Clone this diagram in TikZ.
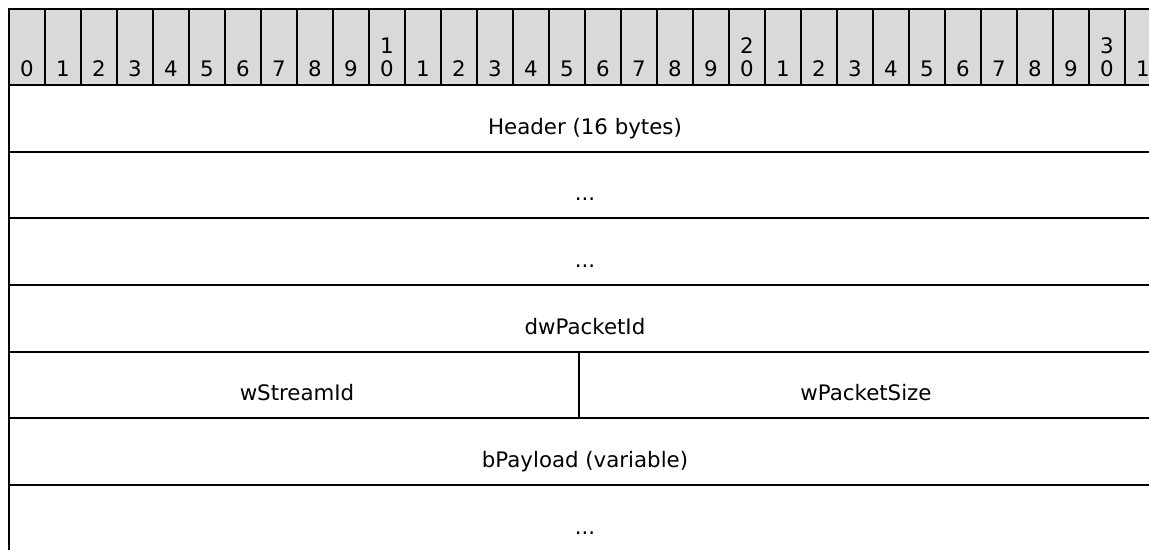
\documentclass[tikz,border=0pt]{standalone}
\usepackage{fontspec}
\setmainfont{DejaVu Sans}
\usepackage{tikz}
\usetikzlibrary{positioning}
\definecolor{headgray}{RGB}{217,217,217}

\begin{document}
\begin{tikzpicture}[x=1pt,y=-1pt,line width=1.5pt,
  every node/.style={font=\fontsize{16}{17}\selectfont, inner sep=0pt},
  bitcell/.style={draw=black, fill=headgray},
  field/.style={anchor=base}]
 \useasboundingbox (0,0) rectangle (861.75,412.5);
 \clip (0,0) rectangle (861.75,412.5);

 % bit numbers 0..31
 \foreach \i in {0,...,31} {
   \draw [bitcell] (6.75+27*\i,6.75) rectangle (33.75+27*\i,63.75);
   \pgfmathtruncatemacro{\ones}{mod(\i,10)}
   \pgfmathtruncatemacro{\tens}{\i/10}
   \node (bit\i) [field] at (20.25+27*\i,57.4) {\ones};
   \ifnum\ones=0 \ifnum\i>0
     \node (tens\i) [field] at (20.25+27*\i,40) {\tens};
   \fi\fi
 }

 % fields
 \node (header) [field] at (438.75,100.5) { Header (16 bytes) };
 \node (hdrmore) [below=50pt of header.base,anchor=base] { ... };
 \node (hdrlast) [below=50pt of hdrmore.base,anchor=base] { ... };
 \node (packetid) [below=50pt of hdrlast.base,anchor=base] { dwPacketId };
 \node (streamid) [field] at (222.75,300.5) { wStreamId };
 \node (packetsize) [field] at (649.5,300.5) { wPacketSize };
 \node (payload) [below=100pt of packetid.base,anchor=base] { bPayload (variable) };
 \node (paymore) [below=50pt of payload.base,anchor=base] { ... };

 % row lines
 \draw (6.75,6.75) -- (6.75,412.5);
 \draw (6.75,113.75) -- (861.75,113.75);
 \draw (6.75,163.75) -- (861.75,163.75);
 \draw (6.75,213.75) -- (861.75,213.75);
 \draw (6.75,263.75) -- (861.75,263.75);
 \draw (6.75,313.75) -- (861.75,313.75);
 \draw (6.75,363.75) -- (861.75,363.75);
 \draw (434,263.75) -- (434,313.75);
\end{tikzpicture}
\end{document}
